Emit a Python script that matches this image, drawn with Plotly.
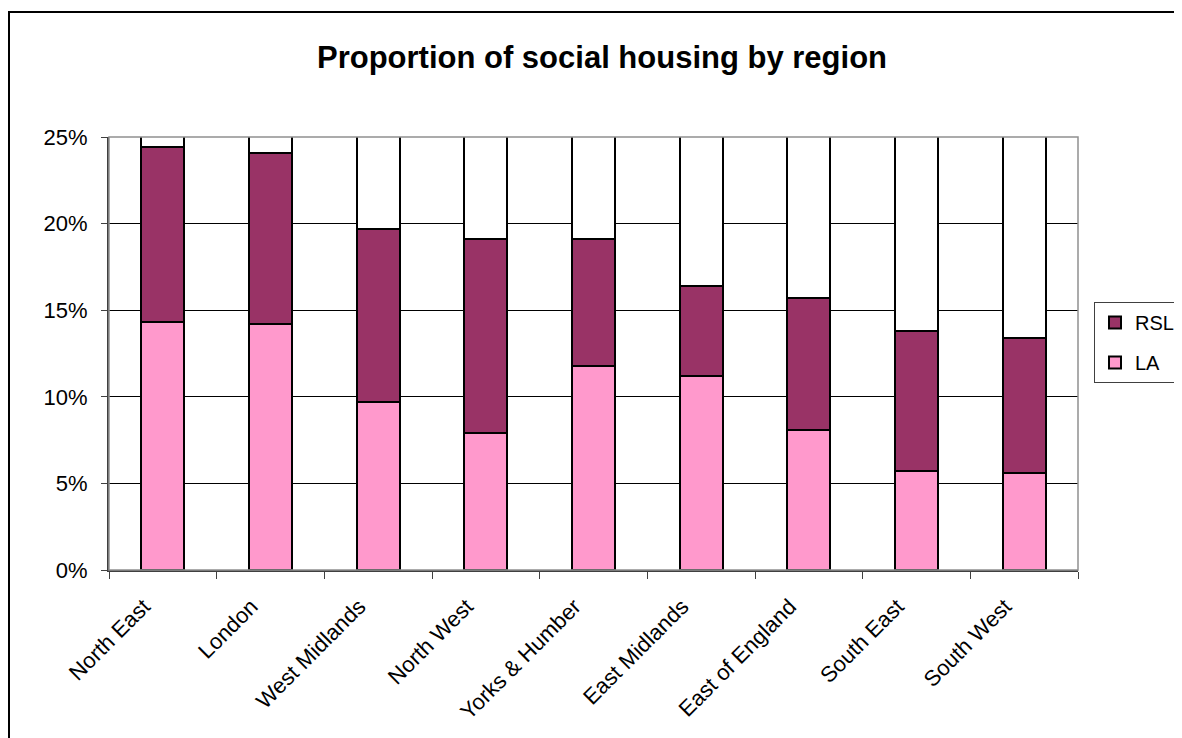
import plotly.graph_objects as go

regions = ["North East", "London", "West Midlands", "North West", "Yorks & Humber",
           "East Midlands", "East of England", "South East", "South West"]
la = [0.143, 0.142, 0.097, 0.079, 0.118, 0.112, 0.081, 0.057, 0.056]
rsl = [0.101, 0.099, 0.100, 0.112, 0.073, 0.052, 0.076, 0.081, 0.078]
other = [1 - a - b for a, b in zip(la, rsl)]
y_ticks = [0, 0.05, 0.10, 0.15, 0.20, 0.25]

OFF = 8  # page body margin
W, H = 1182 - OFF, 738 - OFF
L, T = 109 - OFF, 137 - OFF
R = W - (1078 - OFF)
B = H - (570 - OFF)
pw, ph = W - L - R, H - T - B

FONT = "Liberation Sans, Arial, sans-serif"
line = dict(color="black", width=2)

fig = go.Figure()
fig.add_trace(go.Bar(x=regions, y=la, name="LA", legendgroup="la", legendrank=2,
                     marker=dict(color="#FF99CC", line=line)))
fig.add_trace(go.Bar(x=regions, y=rsl, name="RSL", legendgroup="rsl", legendrank=1,
                     marker=dict(color="#993366", line=line)))
fig.add_trace(go.Bar(x=regions, y=other, name="Other", showlegend=False, hoverinfo="skip",
                     marker=dict(color="white", line=line)))

fig.update_layout(
    width=W, height=H,
    margin=dict(l=L, r=R, t=T, b=B, autoexpand=False),
    barmode="stack", bargap=0.6,
    paper_bgcolor="white", plot_bgcolor="white",
    font=dict(family=FONT, size=22, color="black"),
    title=dict(text="<b>Proportion of social housing by region</b>",
               x=((318 + 886) / 2 - OFF) / W, xanchor="center",
               y=1 - (57 - OFF) / H, yanchor="middle",
               font=dict(size=31, family=FONT, color="black")),
    legend=dict(x=(1094 - 109) / pw, xanchor="left", y=(570 - 302) / ph, yanchor="top",
                bordercolor="#404040", borderwidth=1, font=dict(size=20),
                traceorder="grouped", tracegroupgap=11, itemwidth=30,
                bgcolor="white"),
    showlegend=True,
)
fig.update_yaxes(range=[0, 0.25], tickvals=y_ticks, tickformat=".0%",
                 showgrid=True, gridcolor="black", gridwidth=1,
                 showline=True, linecolor="#404040", linewidth=2,
                 ticks="outside", ticklen=6, tickcolor="#404040", ticklabelstandoff=9,
                 zeroline=False, fixedrange=True)
fig.update_xaxes(tickangle=-45, showgrid=False, showline=True, linecolor="#404040", linewidth=2,
                 ticks="outside", ticklen=7, tickcolor="#404040", tickson="boundaries",
                 ticklabelstandoff=13, ticklabelshift=-19)

# plot-area border (gray)
fig.add_shape(type="rect", xref="paper", yref="paper", x0=0, x1=1, y0=0, y1=1,
              line=dict(color="#909090", width=1.5), layer="above")
# outer chart border
fig.add_shape(type="rect", xref="paper", yref="paper",
              x0=(9 - 109) / pw, x1=(1190 - 109) / pw,
              y0=-(750 - 570) / ph, y1=1 + (137 - 12) / ph,
              line=dict(color="black", width=2), layer="above")

fig.write_html("out.html")
